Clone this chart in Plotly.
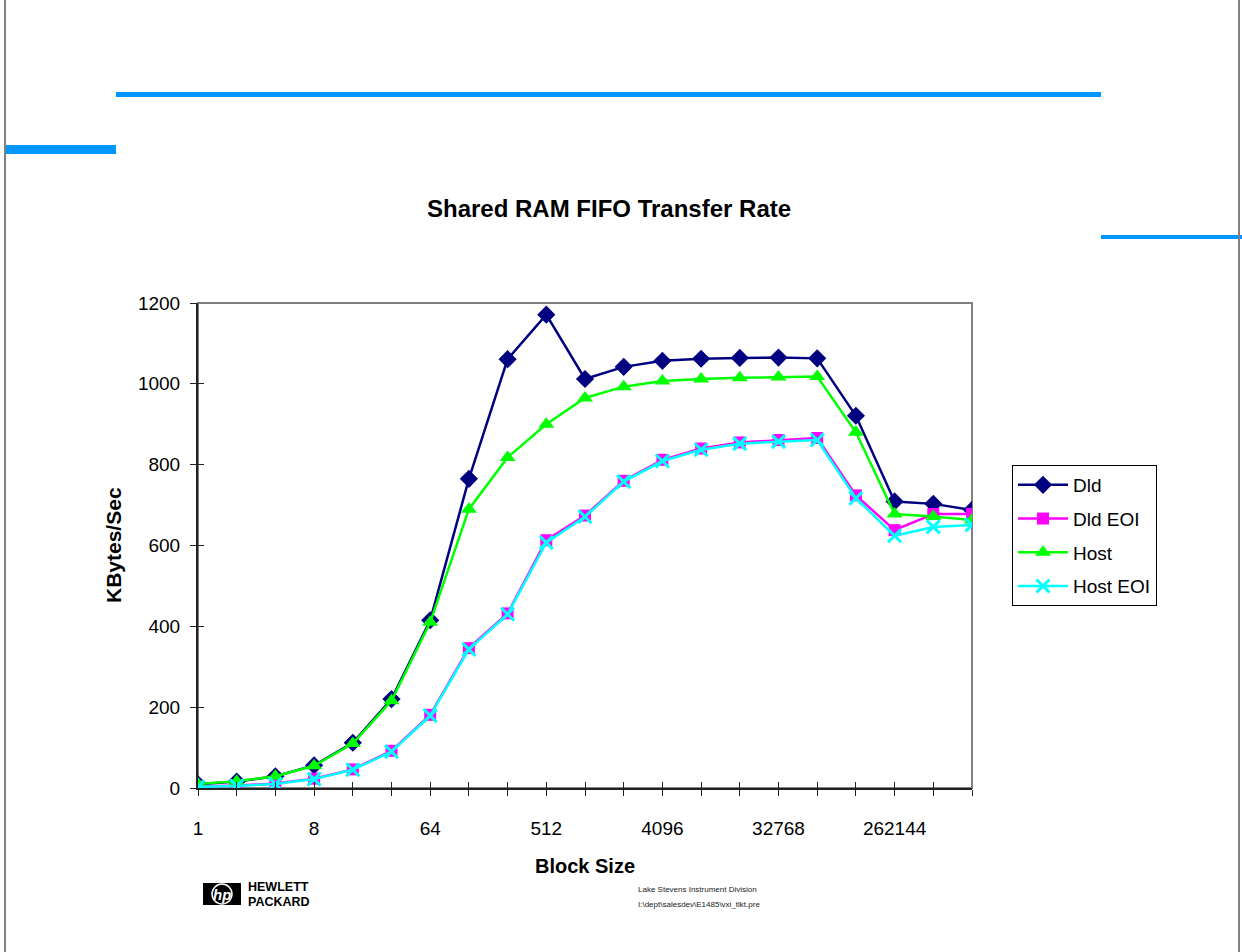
import plotly.graph_objects as go

# Block sizes (powers of two) and measured transfer rates in KBytes/Sec
block_sizes = [2 ** i for i in range(21)]
tick_labels = ["1", "8", "64", "512", "4096", "32768", "262144"]

dld = [9, 16, 29, 56, 112, 220, 415, 765, 1061, 1171, 1012, 1042, 1057, 1062,
       1064, 1065, 1063, 921, 709, 703, 688]
dld_eoi = [4, 6, 11, 23, 46, 92, 181, 346, 432, 613, 674, 760, 812, 840,
           855, 861, 866, 724, 638, 678, 678]
host = [10, 17, 29, 55, 110, 216, 410, 690, 818, 900, 965, 993, 1007, 1012,
        1015, 1017, 1018, 880, 678, 672, 663]
host_eoi = [3, 5, 10, 22, 45, 90, 179, 343, 430, 607, 671, 758, 809, 837,
            852, 857, 861, 717, 624, 646, 651]

categories = [str(b) for b in block_sizes]

W, H = 1242, 952
L, R, T, B = 198, 972, 303, 788


def px(x):
    return (x - L) / (R - L)


def py(y):
    return (B - y) / (B - T)


FONT = "Liberation Sans, Arial, Helvetica, sans-serif"
NARROW = "Liberation Sans Narrow, Arial Narrow, sans-serif"
BLUE = "#0096FF"

series = [
    ("Dld", dld, "#000080", dict(symbol="diamond", size=14, color="#000080")),
    ("Dld EOI", dld_eoi, "#FF00FF", dict(symbol="square", size=12, color="#FF00FF")),
    ("Host", host, "#00FF00", dict(symbol="triangle-up", size=14, color="#00FF00")),
    ("Host EOI", host_eoi, "#00FFFF",
     dict(symbol="x-thin-open", size=13, color="#00FFFF", line=dict(width=3, color="#00FFFF"))),
]

fig = go.Figure()
for name, vals, color, marker in series:
    fig.add_trace(go.Scatter(
        x=categories, y=vals, name=name, mode="lines+markers",
        line=dict(color=color, width=2.5), marker=marker,
        legendgroup=name,
    ))

# empty trace carrying the overlay axes used for the inner half of the tick marks
fig.add_trace(go.Scatter(x=[], y=[], xaxis="x2", yaxis="y2", showlegend=False,
                         hoverinfo="skip"))

fig.update_layout(
    width=W, height=H,
    margin=dict(l=L, r=W - R, t=T, b=H - B, pad=0),
    paper_bgcolor="white", plot_bgcolor="white",
    font=dict(family=FONT, size=19, color="black"),
    showlegend=True,
    legend=dict(
        x=px(1012), y=py(465), xanchor="left", yanchor="top",
        bordercolor="black", borderwidth=1, bgcolor="white",
        font=dict(size=19, family=FONT, color="black"),
        traceorder="grouped", tracegroupgap=6, itemwidth=50,
    ),
    xaxis=dict(
        type="category", categoryorder="array", categoryarray=categories,
        range=[0, 20], showgrid=False, zeroline=False,
        showline=True, linecolor="#222222", linewidth=2,
        ticks="outside", ticklen=6, tickwidth=1, tickcolor="#222222",
        tickvals=categories,
        ticktext=[c if c in tick_labels else "" for c in categories],
        tickfont=dict(size=19), ticklabelstandoff=16,
    ),
    yaxis=dict(
        range=[0, 1200], tickvals=[0, 200, 400, 600, 800, 1000, 1200],
        showgrid=False, zeroline=False,
        showline=True, linecolor="#222222", linewidth=2,
        ticks="outside", ticklen=6, tickwidth=1, tickcolor="#222222",
        tickfont=dict(size=19), ticklabelstandoff=6,
    ),
    xaxis2=dict(
        overlaying="x", anchor="y", side="bottom", range=[0, 20],
        tickmode="linear", tick0=0, dtick=1, ticks="inside", ticklen=6,
        tickwidth=1, tickcolor="#222222", showticklabels=False,
        showgrid=False, zeroline=False, showline=False,
    ),
    yaxis2=dict(
        overlaying="y", anchor="x", side="left", range=[0, 1200],
        tickmode="linear", tick0=0, dtick=200, ticks="inside", ticklen=6,
        tickwidth=1, tickcolor="#222222", showticklabels=False,
        showgrid=False, zeroline=False, showline=False,
    ),
)

shapes = [
    # plot area frame (top and right edges show in grey)
    dict(type="rect", xref="paper", yref="paper", x0=0, x1=1, y0=0, y1=1,
         line=dict(color="#808080", width=2), layer="below"),
    # slide decoration bars
    dict(type="rect", xref="paper", yref="paper", x0=px(116), x1=px(1101),
         y0=py(97), y1=py(92), fillcolor=BLUE, line=dict(width=0)),
    dict(type="rect", xref="paper", yref="paper", x0=px(5), x1=px(116),
         y0=py(154), y1=py(145), fillcolor=BLUE, line=dict(width=0)),
    dict(type="rect", xref="paper", yref="paper", x0=px(1101), x1=px(1242),
         y0=py(239), y1=py(235), fillcolor=BLUE, line=dict(width=0)),
    # page edges
    dict(type="line", xref="paper", yref="paper", x0=px(5), x1=px(5),
         y0=py(0), y1=py(952), line=dict(color="#808080", width=2)),
    dict(type="line", xref="paper", yref="paper", x0=px(1239), x1=px(1239),
         y0=py(0), y1=py(952), line=dict(color="#808080", width=2)),
    # HP logo block
    dict(type="rect", xref="paper", yref="paper", x0=px(203), x1=px(241),
         y0=py(905), y1=py(883), fillcolor="black", line=dict(width=0)),
    dict(type="circle", xref="paper", yref="paper", x0=px(212), x1=px(232),
         y0=py(904), y1=py(884), line=dict(color="white", width=1.5)),
]
fig.update_layout(shapes=shapes)

annotations = [
    dict(text="<b>Shared RAM FIFO Transfer Rate</b>", x=px(609), y=py(208),
         font=dict(size=24, family=FONT, color="black")),
    dict(text="<b>KBytes/Sec</b>", x=px(113), y=py(545), textangle=-90,
         font=dict(size=21, family=FONT, color="black")),
    dict(text="<b>Block Size</b>", x=px(585), y=py(866),
         font=dict(size=20, family=FONT, color="black")),
    dict(text="<b><i>hp</i></b>", x=px(222), y=py(894),
         font=dict(size=15, family=FONT, color="white")),
    dict(text="<b>HEWLETT</b>", x=px(246), y=py(886.5), xanchor="left",
         font=dict(size=12.5, family=FONT, color="black")),
    dict(text="<b>PACKARD</b>", x=px(246), y=py(902), xanchor="left",
         font=dict(size=12.5, family=FONT, color="black")),
    dict(text="Lake Stevens Instrument Division", x=px(636), y=py(889),
         xanchor="left", font=dict(size=8, family=NARROW, color="#222222")),
    dict(text="I:\\dept\\salesdev\\E1485\\vxi_tlkt.pre", x=px(636), y=py(904),
         xanchor="left", font=dict(size=8, family=NARROW, color="#222222")),
]
for a in annotations:
    a.update(xref="paper", yref="paper", showarrow=False)
    a.setdefault("xanchor", "center")
    a.setdefault("yanchor", "middle")
fig.update_layout(annotations=annotations)

fig.write_html("out.html")
